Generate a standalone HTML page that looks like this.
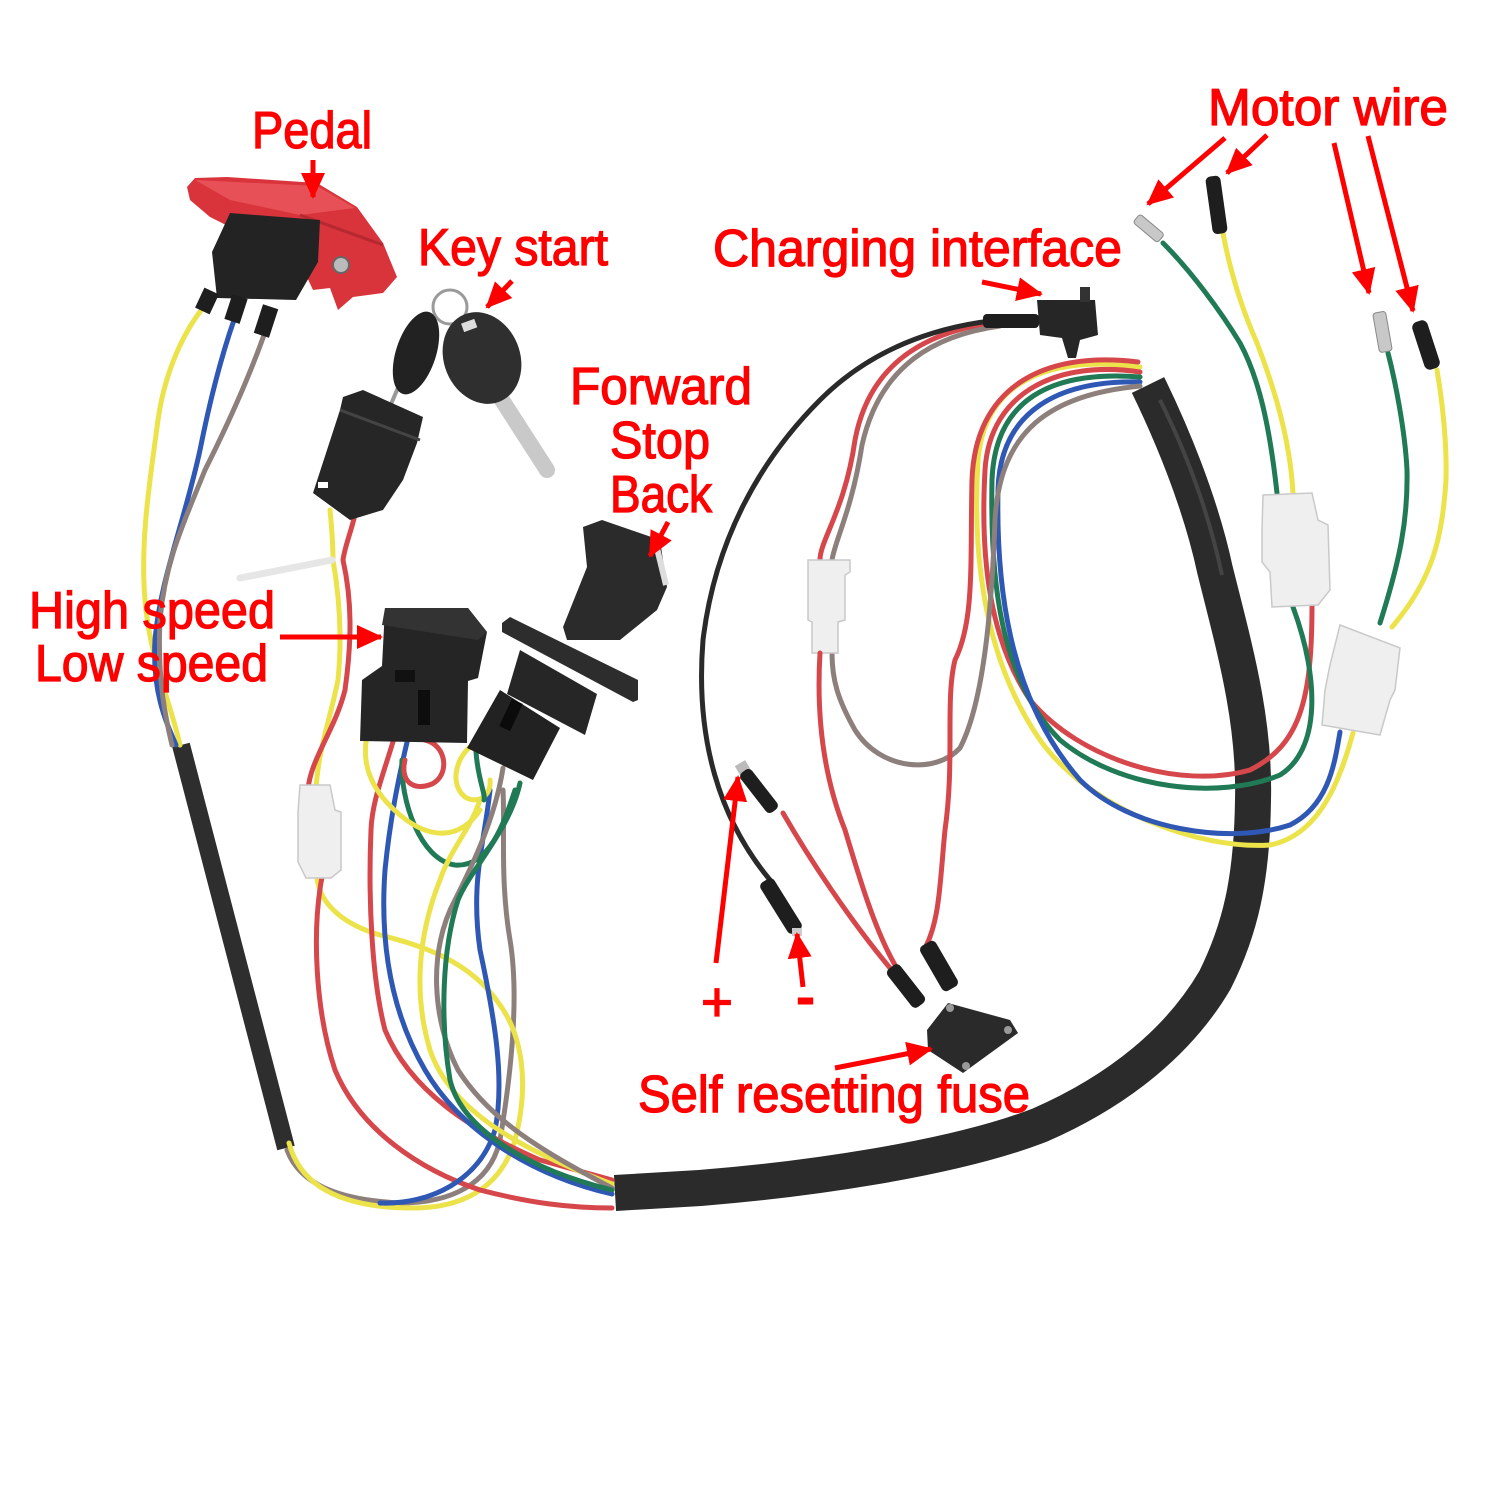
<!DOCTYPE html>
<html>
<head>
<meta charset="utf-8">
<style>
html,body{margin:0;padding:0;background:#fff;}
svg{display:block;}
.lbl{font-family:"Liberation Sans Narrow","Liberation Sans",sans-serif;font-size:52px;fill:#f00;stroke:#f00;stroke-width:1.3px;}
.w{fill:none;stroke-linecap:round;stroke-linejoin:round;stroke-width:5;}
.y{stroke:#ece24a;}
.b{stroke:#2f58b5;}
.br{stroke:#8d7f7c;}
.r{stroke:#d6474b;}
.g{stroke:#1f7a55;}
.k{stroke:#2a2a2a;}
.arr{stroke:#f00;stroke-width:5;fill:none;}
.conn{fill:#efefef;stroke:#c9c9c9;stroke-width:1.5;}
</style>
</head>
<body>
<svg width="1500" height="1500" viewBox="0 0 1500 1500" xmlns="http://www.w3.org/2000/svg">
<defs>
<marker id="ah" markerUnits="userSpaceOnUse" markerWidth="26" markerHeight="24" viewBox="0 0 26 24" refX="24" refY="12" orient="auto">
<path d="M0,0 L26,12 L0,24 z" fill="#f00"/>
</marker>
</defs>
<rect width="1500" height="1500" fill="#fff"/>

<!-- ===== Main black tube ===== -->
<path d="M1148,385 C1170,430 1200,500 1215,570 C1235,650 1255,720 1253,800 C1252,880 1240,930 1215,980 C1180,1040 1120,1090 1040,1125 C950,1160 800,1180 700,1188 L615,1193" fill="none" stroke="#2b2b2b" stroke-width="36" stroke-linejoin="round"/>
<path d="M1160,400 C1185,450 1208,510 1222,575" fill="none" stroke="#444" stroke-width="4"/>

<!-- ===== Left small tube ===== -->
<path d="M181,745 L286,1148" fill="none" stroke="#2e2e2e" stroke-width="18"/>

<!-- ===== Pedal wires ===== -->
<path class="w y" d="M203,308 C185,330 165,370 158,420 C150,480 140,540 145,600 C150,660 170,700 180,745"/>
<path class="w b" d="M234,320 C220,360 210,400 200,450 C185,520 160,580 155,640 C152,690 165,720 176,745"/>
<path class="w br" d="M264,335 C248,380 225,430 205,470 C185,520 165,560 160,620 C157,680 166,720 172,745"/>

<!-- ===== Bottom left loops ===== -->
<path class="w br" d="M287,1150 C300,1185 340,1200 400,1203 C450,1203 490,1185 500,1140 C510,1080 520,1000 510,940 C500,880 505,830 503,790"/>
<path class="w y" d="M289,1143 C300,1185 340,1208 413,1208 C460,1208 500,1190 515,1140 C528,1090 525,1040 500,1005 C470,960 420,945 380,935 C345,925 320,905 317,878"/>
<path class="w r" d="M322,877 C312,930 315,1010 335,1070 C360,1130 420,1170 480,1190 C530,1203 570,1208 612,1208"/>
<path class="w r" d="M395,735 C385,770 372,800 371,830 C368,900 372,980 385,1030 C410,1090 470,1130 540,1160 L612,1180"/>
<path class="w b" d="M408,738 C398,780 390,820 385,870 C380,940 390,1010 425,1070 C460,1130 530,1175 612,1194"/>
<path class="w b" d="M490,790 C485,840 470,880 480,950 C495,1020 505,1080 495,1130 C480,1180 430,1205 380,1203"/>
<path class="w g" d="M402,760 C400,800 420,860 455,865 C490,868 505,820 515,790"/>
<path class="w y" d="M480,800 C470,830 450,850 440,880 C420,930 412,990 430,1050 C450,1110 520,1150 612,1184"/>
<path class="w br" d="M503,768 C495,820 470,870 455,900 C428,950 432,1020 458,1070 C490,1120 540,1150 612,1188"/>
<path class="w g" d="M520,783 C510,830 470,870 458,900 C442,950 440,1020 450,1080 C462,1130 530,1170 612,1190"/>
<path class="w y" d="M370,725 C358,760 370,790 400,815 C430,840 460,840 480,810"/>
<path class="w r" d="M425,740 C447,745 450,775 432,784 C412,792 400,780 405,760"/>
<path class="w y" d="M470,747 C455,760 450,785 465,797 C478,805 492,795 490,780"/>
<path class="w g" d="M476,752 C478,780 486,795 484,800"/>

<!-- ===== Key switch wires + tie ===== -->
<path class="w y" d="M330,510 C332,530 333,545 333,560 C340,600 342,640 338,680 C330,720 318,750 316,790"/>
<path class="w r" d="M356,510 C352,530 345,545 343,560 C352,600 352,640 345,690 C335,730 310,760 308,790"/>
<path d="M240,578 L332,560" stroke="#e6e6e6" stroke-width="7" fill="none" stroke-linecap="round"/>

<!-- left white connector -->
<polygon class="conn" points="300,785 330,785 335,810 341,812 341,870 331,878 306,878 298,862 298,812"/>

<!-- ===== Pedal ===== -->
<polygon points="187,187 195,178 227,177 317,183 357,207 383,243 397,277 383,293 353,297 338,310 330,288 313,290 300,262 210,217 190,200" fill="#d9333c"/>
<polygon points="195,180 317,186 355,208 300,215 230,200" fill="#e85057"/>
<path d="M300,215 L383,245" stroke="#b52830" stroke-width="3"/>
<polygon points="230,213 320,220 318,262 296,300 217,298 212,252" fill="#232323"/>
<rect x="199" y="290" width="16" height="22" fill="#1e1e1e" transform="rotate(25 207 301)"/>
<rect x="228" y="296" width="16" height="26" fill="#1e1e1e" transform="rotate(18 236 309)"/>
<rect x="258" y="306" width="16" height="30" fill="#1e1e1e" transform="rotate(18 266 321)"/>
<circle cx="341" cy="265" r="8" fill="#bbb" stroke="#666" stroke-width="2"/>

<!-- ===== Key start ===== -->
<circle cx="450" cy="307" r="17" fill="none" stroke="#9a9a9a" stroke-width="3"/>
<path d="M500,397 L547,470" stroke="#c9c9c9" stroke-width="16" stroke-linecap="round"/>
<path d="M400,383 L380,430" stroke="#999" stroke-width="4"/>
<ellipse cx="416" cy="353" rx="20" ry="43" transform="rotate(18 416 353)" fill="#222"/>
<ellipse cx="482" cy="358" rx="38" ry="47" transform="rotate(-22 482 358)" fill="#2f2f2f"/>
<rect x="462" y="321" width="14" height="9" fill="#ddd" transform="rotate(-20 469 325)"/>
<polygon points="343,397 363,390 423,417 417,443 403,480 383,510 350,520 313,493 327,450 340,410" fill="#262626"/>
<path d="M340,410 L420,440" stroke="#444" stroke-width="3"/>
<rect x="318" y="482" width="10" height="6" fill="#fff"/>

<!-- ===== Rocker switch (High/Low) ===== -->
<polygon points="385,608 468,608 487,632 478,678 468,681 467,743 360,741 362,680 382,666" fill="#252525"/>
<polygon points="385,608 468,608 487,632 478,640 382,625" fill="#333"/>
<rect x="418" y="690" width="12" height="35" fill="#0d0d0d"/>
<rect x="395" y="670" width="20" height="12" fill="#111"/>

<!-- ===== Forward/Stop/Back switch ===== -->
<polygon points="583,527 602,520 660,540 667,587 657,610 620,640 567,640 563,627 587,567" fill="#2b2b2b"/>
<path d="M655,540 L666,585" stroke="#ddd" stroke-width="6"/>
<polygon points="502,623 510,617 638,680 638,700 633,702 502,632" fill="#2d2d2d"/>
<polygon points="520,650 597,694 585,735 507,694" fill="#262626"/>
<polygon points="500,690 560,728 533,780 467,748" fill="#222"/>
<rect x="505" y="700" width="12" height="30" fill="#0b0b0b" transform="rotate(25 511 715)"/>

<!-- ===== Motor wires (top right) ===== -->
<path class="w g" d="M1163,243 C1190,270 1220,310 1240,343 C1260,380 1270,430 1277,493"/>
<path class="w y" d="M1223,233 C1228,260 1238,300 1257,343 C1275,390 1290,440 1293,493"/>
<rect x="1133" y="223" width="32" height="11" rx="3" fill="#c8c8c8" stroke="#888" transform="rotate(40 1149 228)"/>
<rect x="1209" y="176" width="15" height="58" rx="5" fill="#1e1e1e" transform="rotate(-8 1216 205)"/>
<path class="w g" d="M1388,353 C1395,380 1405,430 1407,470 C1408,520 1400,560 1380,623"/>
<path class="w y" d="M1437,370 C1442,400 1447,440 1446,480 C1442,540 1432,580 1392,627"/>
<rect x="1376" y="312" width="13" height="40" rx="3" fill="#c8c8c8" stroke="#888" transform="rotate(-10 1382 332)"/>
<rect x="1418" y="320" width="16" height="50" rx="6" fill="#1e1e1e" transform="rotate(-18 1426 345)"/>

<!-- ===== Wires looping out of top of tube ===== -->
<path class="w y" d="M1140,367 C1050,355 985,380 978,460 C972,560 985,660 1040,740 C1090,810 1200,850 1270,845 C1320,835 1340,780 1353,733"/>
<path class="w r" d="M1140,372 C1060,360 990,390 985,470 C980,560 990,640 1030,700 C1080,760 1180,790 1250,770 C1300,745 1312,700 1312,605"/>
<path class="w g" d="M1140,377 C1050,370 995,400 992,480 C990,580 1000,680 1060,740 C1120,790 1220,800 1280,775 C1320,750 1320,680 1293,607"/>
<path class="w b" d="M1140,382 C1060,380 1000,410 998,490 C996,590 1010,700 1080,780 C1130,830 1230,845 1290,825 C1330,805 1335,760 1340,732"/>
<path class="w br" d="M1140,386 C1050,395 1000,430 995,520 C992,600 985,700 960,748 C935,775 880,770 855,730 C838,700 832,680 832,653"/>
<path class="w r" d="M1138,362 C1040,350 975,390 972,480 C970,560 975,620 955,660 C945,700 955,760 945,830 C940,880 940,920 925,948"/>

<!-- right white connectors -->
<polygon class="conn" points="1263,495 1312,493 1318,520 1328,525 1330,590 1318,605 1272,607 1270,572 1262,562 1262,530"/>
<polygon class="conn" points="1340,625 1400,648 1395,690 1390,700 1380,735 1322,725 1325,690 1330,665"/>

<!-- ===== Charging interface ===== -->
<path class="w r" d="M1000,322 C930,330 870,360 855,440 C845,510 820,540 820,560"/>
<path class="w br" d="M1000,326 C935,335 880,365 862,445 C852,510 835,540 832,560"/>
<path class="w k" d="M1040,318 C960,318 880,340 820,400 C760,460 715,540 703,640 C695,740 720,820 770,880"/>
<rect x="983" y="314" width="56" height="14" rx="4" fill="#1e1e1e"/>
<polygon points="1037,300 1095,300 1098,335 1080,340 1076,358 1068,358 1062,338 1040,335" fill="#262626"/>
<rect x="1080" y="287" width="10" height="15" fill="#333"/>

<!-- middle white connector -->
<polygon class="conn" points="808,560 850,560 850,572 845,575 845,620 838,622 838,653 812,653 812,622 808,620"/>

<!-- red to fuse -->
<path class="w r" d="M820,653 C816,720 825,780 845,830 C860,880 875,930 895,965"/>
<path class="w r" d="M783,813 C810,860 850,920 890,968"/>

<!-- + / - terminals -->
<rect x="738" y="762" width="12" height="16" fill="#bbb" transform="rotate(-30 744 770)"/>
<rect x="752" y="766" width="14" height="50" rx="5" fill="#1e1e1e" transform="rotate(-38 759 791)"/>
<rect x="773" y="876" width="16" height="60" rx="5" fill="#1e1e1e" transform="rotate(-32 781 906)"/>
<rect x="792" y="928" width="10" height="8" fill="#ccc"/>

<!-- fuse sleeves -->
<rect x="898" y="962" width="16" height="48" rx="5" fill="#1e1e1e" transform="rotate(-38 906 986)"/>
<rect x="930" y="940" width="18" height="52" rx="5" fill="#1e1e1e" transform="rotate(-30 939 966)"/>

<!-- fuse body -->
<polygon points="927,1030 948,1003 1010,1020 1018,1033 963,1073 928,1050" fill="#2a2a2a"/>
<circle cx="950" cy="1008" r="4" fill="#999"/>
<circle cx="1008" cy="1030" r="4" fill="#999"/>
<circle cx="966" cy="1066" r="4" fill="#999"/>

<!-- ===== Arrows ===== -->
<line class="arr" x1="313" y1="160" x2="313" y2="197" marker-end="url(#ah)"/>
<line class="arr" x1="512" y1="281" x2="487" y2="307" marker-end="url(#ah)"/>
<line class="arr" x1="668" y1="522" x2="650" y2="556" marker-end="url(#ah)"/>
<line class="arr" x1="982" y1="282" x2="1041" y2="294" marker-end="url(#ah)"/>
<line class="arr" x1="1225" y1="138" x2="1148" y2="204" marker-end="url(#ah)"/>
<line class="arr" x1="1267" y1="135" x2="1227" y2="173" marker-end="url(#ah)"/>
<line class="arr" x1="1334" y1="143" x2="1369" y2="293" marker-end="url(#ah)"/>
<line class="arr" x1="1368" y1="136" x2="1413" y2="311" marker-end="url(#ah)"/>
<line class="arr" x1="280" y1="637" x2="381" y2="637" marker-end="url(#ah)"/>
<line class="arr" x1="716" y1="963" x2="738" y2="777" marker-end="url(#ah)"/>
<line class="arr" x1="803" y1="987" x2="797" y2="934" marker-end="url(#ah)"/>
<line class="arr" x1="835" y1="1068" x2="931" y2="1049" marker-end="url(#ah)"/>

<!-- ===== Labels ===== -->
<text class="lbl" x="252" y="148" textLength="120" lengthAdjust="spacingAndGlyphs">Pedal</text>
<text class="lbl" x="418" y="265" textLength="190" lengthAdjust="spacingAndGlyphs">Key start</text>
<text class="lbl" x="570" y="404" textLength="182" lengthAdjust="spacingAndGlyphs">Forward</text>
<text class="lbl" x="610" y="458" textLength="100" lengthAdjust="spacingAndGlyphs">Stop</text>
<text class="lbl" x="610" y="512" textLength="102" lengthAdjust="spacingAndGlyphs">Back</text>
<text class="lbl" x="713" y="266" textLength="409" lengthAdjust="spacingAndGlyphs">Charging interface</text>
<text class="lbl" x="1208" y="125" textLength="240" lengthAdjust="spacingAndGlyphs">Motor wire</text>
<text class="lbl" x="29" y="628" textLength="246" lengthAdjust="spacingAndGlyphs">High speed</text>
<text class="lbl" x="35" y="681" textLength="233" lengthAdjust="spacingAndGlyphs">Low speed</text>
<text class="lbl" x="701" y="1021" font-size="56" textLength="32" lengthAdjust="spacingAndGlyphs" style="font-size:56px">+</text>
<text class="lbl" x="797" y="1015" textLength="17" lengthAdjust="spacingAndGlyphs" style="stroke-width:3px">-</text>
<text class="lbl" x="638" y="1112" textLength="392" lengthAdjust="spacingAndGlyphs">Self resetting fuse</text>
</svg>
</body>
</html>
